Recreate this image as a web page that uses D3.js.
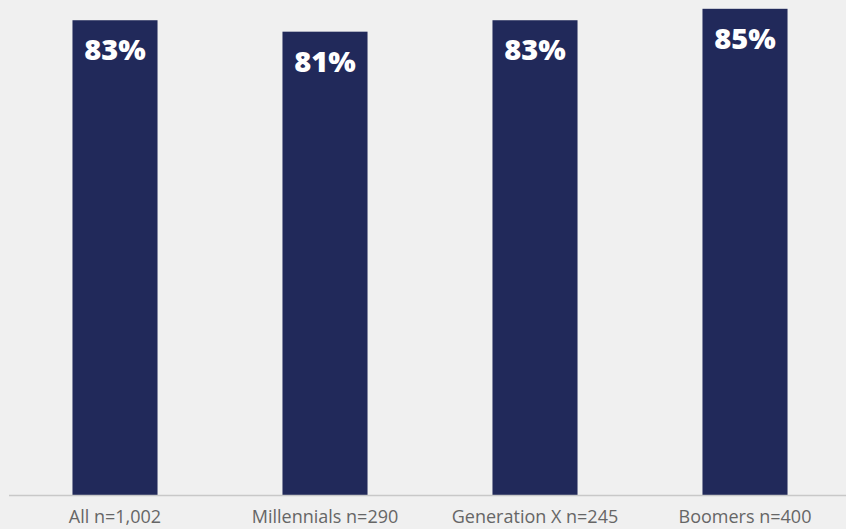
<!DOCTYPE html>
<html>
<head>
<meta charset="utf-8">
<script src="https://cdn.jsdelivr.net/npm/d3@7"></script>
<style>
  html, body { margin: 0; padding: 0; background: #f0f0f0; }
  svg { display: block; }
</style>
</head>
<body>
<svg id="chart" width="846" height="529"></svg>
<script>
// Share of respondents by generation
const categories = ["All n=1,002", "Millennials n=290", "Generation X n=245", "Boomers n=400"];
const values = [83, 81, 83, 85];

const width = 846, height = 529;
const baseline = 495;
const svg = d3.select("#chart");

svg.append("rect").attr("width", width).attr("height", height).attr("fill", "#f0f0f0");

const x = d3.scaleBand()
  .domain(categories)
  .range([10, 850])
  .paddingInner(0.595)
  .paddingOuter(0.2975);

const y = d3.scaleLinear()
  .domain([0, 100])
  .range([baseline, baseline - 572]);

const data = categories.map((c, i) => ({ c, v: values[i] }));

svg.selectAll("rect.bar")
  .data(data)
  .join("rect")
  .attr("class", "bar")
  .attr("x", d => x(d.c))
  .attr("y", d => y(d.v))
  .attr("width", x.bandwidth())
  .attr("height", d => baseline - y(d.v))
  .attr("fill", "#21295a");

svg.selectAll("text.val")
  .data(data)
  .join("text")
  .attr("class", "val")
  .attr("x", d => x(d.c) + x.bandwidth() / 2)
  .attr("y", d => y(d.v) + 40)
  .attr("text-anchor", "middle")
  .attr("fill", "#ffffff")
  .attr("font-family", "'Open Sans', Lato, sans-serif")
  .attr("font-weight", "800")
  .attr("font-size", 29)
  .text(d => d.v + "%");

// baseline axis
const axis = d3.axisBottom(x).tickSize(0).tickPadding(0);
const g = svg.append("g").attr("transform", `translate(0,${baseline})`).call(axis);
g.select(".domain").attr("d", `M9,0.5H846`).attr("stroke", "#c8c8c8").attr("stroke-width", 1.5);
g.selectAll(".tick text")
  .attr("y", 28)
  .attr("dy", 0)
  .attr("fill", "#666666")
  .attr("font-family", "'Open Sans', Lato, sans-serif")
  .attr("font-size", 18);
</script>
</body>
</html>
